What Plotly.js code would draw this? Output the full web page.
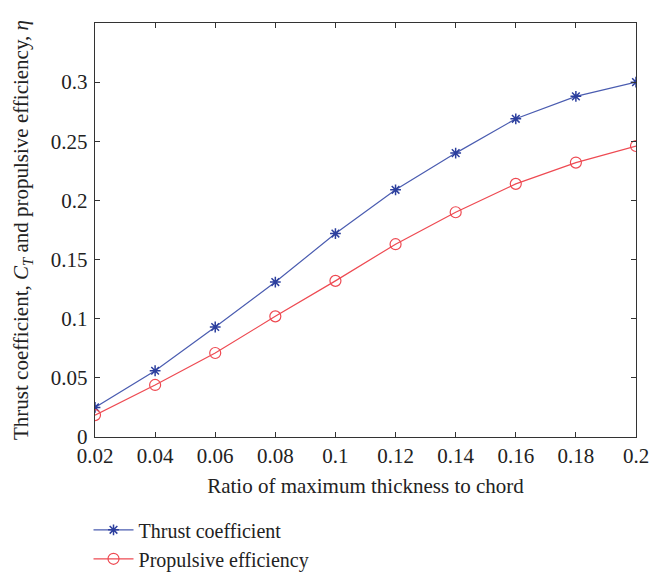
<!DOCTYPE html>
<html><head><meta charset="utf-8">
<script src="https://cdn.plot.ly/plotly-3.0.1.min.js"></script>
<style>html,body{margin:0;padding:0;background:#fff}#chart{width:651px;height:574px}</style>
</head><body><div id="chart"></div>
<script>
const ratio = [0.02, 0.04, 0.06, 0.08, 0.10, 0.12, 0.14, 0.16, 0.18, 0.20];
const thrustCoefficient = [0.025, 0.056, 0.093, 0.131, 0.172, 0.209, 0.240, 0.269, 0.288, 0.300];
const propulsiveEfficiency = [0.0185, 0.044, 0.071, 0.102, 0.132, 0.163, 0.190, 0.214, 0.232, 0.246];
const xTicks = [0.02, 0.04, 0.06, 0.08, 0.1, 0.12, 0.14, 0.16, 0.18, 0.2];
const xTickLabels = ['0.02','0.04','0.06','0.08','0.1','0.12','0.14','0.16','0.18','0.2'];
const yTicks = [0, 0.05, 0.1, 0.15, 0.2, 0.25, 0.3];
const yTickLabels = ['0','0.05','0.1','0.15','0.2','0.25','0.3'];

const fam = 'Liberation Serif, DejaVu Serif, serif';
const font = {family: fam, size: 21, color: '#222'};
const traces = [
  {x: ratio, y: thrustCoefficient, name: 'Thrust coefficient', mode: 'lines+markers',
   line: {color: '#4a5cb0', width: 1.2},
   marker: {symbol: 'asterisk-open', size: 9, color: '#2c3f9e', line: {color: '#2c3f9e', width: 1.5}}},
  {x: ratio, y: propulsiveEfficiency, name: 'Propulsive efficiency', mode: 'lines+markers',
   line: {color: '#ee4a52', width: 1.2},
   marker: {symbol: 'circle-open', size: 11, color: '#ee4a52', line: {color: '#ee4a52', width: 1.2}}}
];
const axisCommon = {showgrid: false, zeroline: false, showline: true, linecolor: '#333', linewidth: 1.2,
  mirror: 'ticks', ticks: 'inside', ticklen: 5, tickcolor: '#333', tickfont: font, automargin: false};
const layout = {
  width: 651, height: 574,
  margin: {l: 95, r: 15, t: 23, b: 137, autoexpand: false},
  paper_bgcolor: '#fff', plot_bgcolor: '#fff',
  font: font,
  showlegend: true,
  legend: {x: -0.012, xanchor: 'left', y: -0.177, yanchor: 'top',
           font: {family: fam, size: 20, color: '#222'},
           bgcolor: 'rgba(0,0,0,0)', tracegroupgap: 0, itemwidth: 40},
  xaxis: Object.assign({}, axisCommon, {range: [0.02, 0.2], tickvals: xTicks, ticktext: xTickLabels,
    title: {text: 'Ratio of maximum thickness to chord', font: font, standoff: 10}}),
  yaxis: Object.assign({}, axisCommon, {range: [0, 0.35], tickvals: yTicks, ticktext: yTickLabels, ticklabelstandoff: 2,
    title: {text: 'Thrust coefficient, <i>C</i><sub><i>T</i></sub> and propulsive efficiency, <i>η</i>', font: font, standoff: 16}})
};
Plotly.newPlot('chart', traces, layout, {displayModeBar: false, staticPlot: true});
</script></body></html>
